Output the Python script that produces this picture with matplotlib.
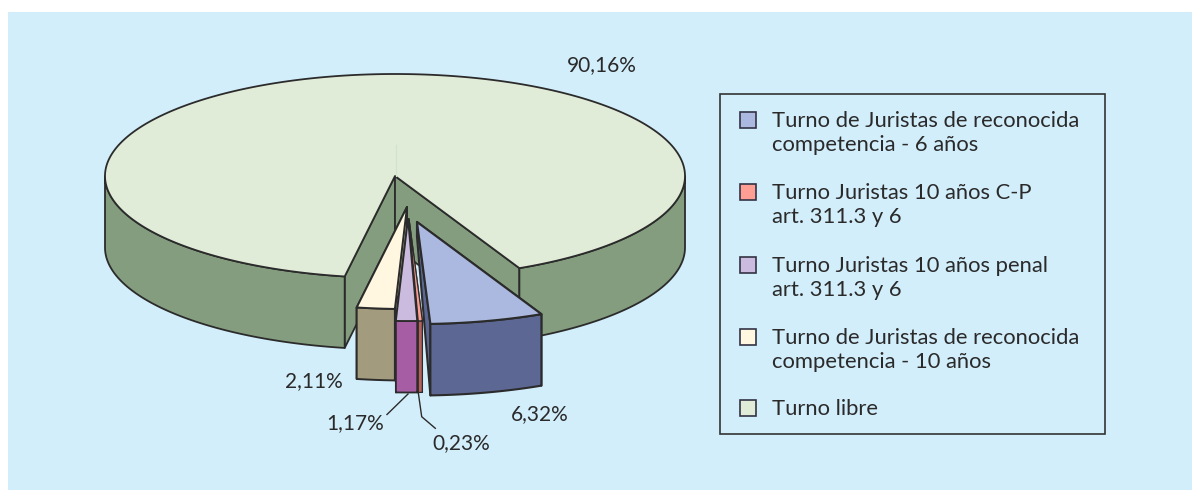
import numpy as np
import matplotlib
matplotlib.use("Agg")
import matplotlib.pyplot as plt
from matplotlib.patches import Polygon, Rectangle

# Data
labels = ["Turno de Juristas de reconocida\ncompetencia - 6 años",
          "Turno Juristas 10 años C-P\nart. 311.3 y 6",
          "Turno Juristas 10 años penal\nart. 311.3 y 6",
          "Turno de Juristas de reconocida\ncompetencia - 10 años",
          "Turno libre"]
values = [6.32, 0.23, 1.17, 2.11, 90.16]
value_texts = ["6,32%", "0,23%", "1,17%", "2,11%", "90,16%"]

# Styles
top_colors = ["#ABB9E0", "#FF9E92", "#CBBBDE", "#FFF7E0", "#E0ECD8"]
side_colors = ["#5C6893", "#B5605A", "#A65DA3", "#A39B7E", "#839D7E"]
offsets = [(22, 46), (14, 43), (13, 43), (12, 31), (0, 0)]
line_widths = [1.5, 0.9, 1.3, 1.4, 1.3]
apex_drops = [15, 71.5, 71.5, 71.5, 71.5]
label_pos = [(540, 414), (461, 443), (355, 423), (314, 381), (602, 65)]
BG = "#D3EEFB"
EDGE = "#2B2B2B"
FONT = "Lato"
CX, CY, RX, RY, DEPTH = 395.0, 176.0, 290.0, 102.0, 71.5
START = 64.6

fig = plt.figure(figsize=(11.92, 4.90), dpi=100, facecolor="white")
ax = fig.add_axes([0, 0, 1, 1])
ax.set_xlim(0, 1192)
ax.set_ylim(490, 0)
ax.axis("off")
ax.add_patch(Rectangle((8, 12), 1184, 478, fc=BG, ec="none", zorder=0))

def arc(a0, a1, ox=0.0, oy=0.0, n=120):
    t = np.radians(np.linspace(a0, a1, n))
    return np.column_stack([CX + ox + RX * np.cos(t), CY + oy + RY * np.sin(t)])

def poly(pts, fc, z, lw=1.4):
    ax.add_patch(Polygon(pts, closed=True, fc=fc, ec=EDGE, lw=lw, joinstyle="round", zorder=z))

spans = np.array(values) / sum(values) * 360.0
ends = START + np.cumsum(spans)
starts = ends - spans

def draw_slice(i, z):
    a0, a1 = starts[i], ends[i]
    ox, oy = offsets[i]
    lw = line_widths[i]
    apex = np.array([CX + ox, CY + oy])
    down = np.array([0, DEPTH])
    drop = np.array([0, apex_drops[i]])
    pa, pb = arc(a0, a0, ox, oy, 1)[0], arc(a1, a1, ox, oy, 1)[0]
    # inner walls
    poly([apex, pa, pa + down, apex + drop], side_colors[i], z, lw)
    poly([apex, pb, pb + down, apex + drop], side_colors[i], z, lw)
    # outer wall: only parts facing the viewer (0..180 modulo 360)
    for lo, hi in ((a0, min(a1, 180)), (max(a0, 360), a1)):
        if hi > lo:
            top = arc(lo, hi, ox, oy)
            poly(np.vstack([top, (top + down)[::-1]]), side_colors[i], z + 0.1, lw)
    poly(np.vstack([apex[None, :], arc(a0, a1, ox, oy, 400)]), top_colors[i], z + 0.2, lw)

# back to front: free-turn slice, then the exploded wedges
for z, i in enumerate([4, 3, 1, 2, 0]):
    draw_slice(i, 2 + z)

# faint crease on the top face above the apex
ax.plot([CX + 0.5, CX + 0.5], [145, CY], color="#D0E4CB", lw=0.8, zorder=2.5)

for (x, y), t in zip(label_pos, value_texts):
    ax.text(x, y, t, ha="center", va="center", fontsize=15, color="#2A2A2A", family=FONT, zorder=10)

# leader lines
ax.plot([408, 387], [394, 414.5], color=EDGE, lw=1.0, zorder=9)
ax.plot([418.3, 421.7, 435.3], [392.7, 416.7, 428.3], color=EDGE, lw=1.0, zorder=9)

# legend
ax.add_patch(Rectangle((720, 94), 385, 340, fc="none", ec="#333333", lw=1.2, zorder=10))
leg_y = [120, 192, 265, 337, 408]
for y, t, c in zip(leg_y, labels, top_colors):
    ax.add_patch(Rectangle((740, y - 8), 16, 16, fc=c, ec="#333344", lw=1.2, zorder=11))
    ax.text(772, y - 9.5, t, ha="left", va="top", fontsize=15.8, color="#2A2A2A",
            family=FONT, linespacing=1.25, zorder=11)

fig.savefig("out.png", dpi=100, facecolor="white")
